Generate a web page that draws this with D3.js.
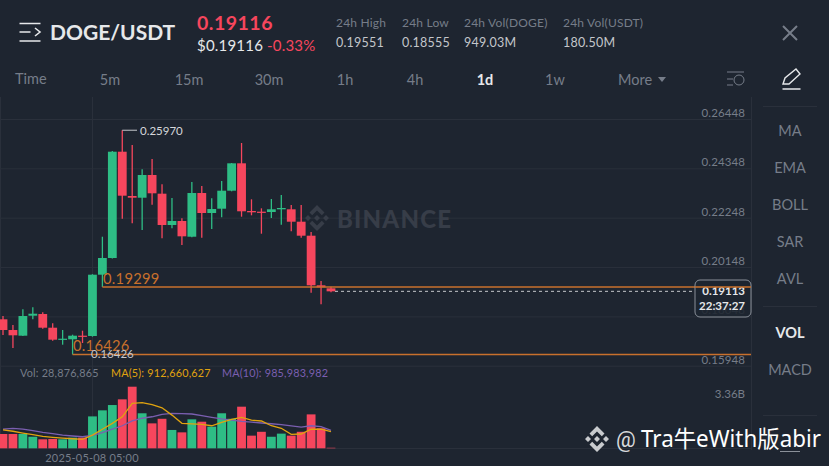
<!DOCTYPE html>
<html lang="en">
<head>
<meta charset="utf-8">
<title>DOGE/USDT</title>
<script src="https://d3js.org/d3.v7.min.js"></script>
<style>
  html, body { margin: 0; padding: 0; background: #1e2530; overflow: hidden; }
  svg { display: block; }
  text { font-family: Lato, "Open Sans", sans-serif; }
</style>
</head>
<body>
<div id="chart"></div>
<script>
// daily candles
var opens  = [0.17923,0.17467,0.17225,0.18076,0.18148,0.17565,0.17055,0.17072,0.17225,0.17212,0.19821,0.20532,0.25056,0.23171,0.23098,0.24065,0.23269,0.21936,0.22107,0.21438,0.23298,0.22447,0.22630,0.23396,0.24562,0.22532,0.22503,0.22490,0.22605,0.22605,0.22077,0.21481,0.19370,0.19242];
var highs  = [0.18063,0.17680,0.18348,0.18434,0.18221,0.17753,0.17467,0.17268,0.17438,0.19842,0.21438,0.25086,0.25970,0.25341,0.24307,0.24746,0.23669,0.23086,0.22222,0.23767,0.23596,0.23073,0.23809,0.24575,0.25427,0.23030,0.22647,0.23043,0.23213,0.22788,0.22788,0.21639,0.19553,0.19310];
var lows   = [0.17255,0.16701,0.17215,0.17923,0.17523,0.17012,0.16842,0.16426,0.16914,0.17183,0.19299,0.20511,0.22205,0.22009,0.21724,0.22800,0.21370,0.21796,0.21085,0.21413,0.21396,0.21766,0.22264,0.23370,0.22290,0.22349,0.21566,0.22234,0.21949,0.21668,0.21396,0.19055,0.18561,0.19072];
var closes = [0.17467,0.17242,0.18063,0.18161,0.17565,0.17055,0.17097,0.17225,0.17183,0.19821,0.20532,0.25056,0.23184,0.23098,0.24065,0.23286,0.21936,0.22107,0.21455,0.23298,0.22447,0.22617,0.23396,0.24562,0.22520,0.22477,0.22464,0.22605,0.22660,0.22077,0.21481,0.19370,0.19285,0.19113];

// volume pane, in billions
var volumes = [0.78,0.78,0.78,0.63,0.49,0.51,0.49,0.58,0.58,1.74,2.07,2.36,2.67,3.36,1.91,1.36,1.61,1.00,0.87,1.58,1.45,1.18,1.91,1.61,2.27,0.69,0.90,0.63,0.80,0.69,0.90,1.85,1.09,0.029];
var volumeUp = [0,0,1,1,0,0,1,1,0,1,1,1,0,0,1,0,0,1,0,1,0,1,1,1,0,0,0,1,1,0,0,0,0,0];
var ma5  = [1.00,0.93,0.83,0.74,0.65,0.60,0.56,0.52,0.49,0.72,1.04,1.36,1.72,2.45,2.49,2.38,2.21,1.81,1.36,1.33,1.31,1.23,1.42,1.58,1.69,1.54,1.49,1.23,1.09,0.76,0.78,1.04,1.04,0.91];
var ma10 = [1.05,1.09,1.05,0.96,0.87,0.80,0.72,0.67,0.63,0.71,0.85,1.04,1.23,1.49,1.64,1.72,1.85,1.91,1.89,1.87,1.78,1.69,1.60,1.54,1.47,1.43,1.38,1.34,1.29,1.22,1.16,1.23,1.18,0.98];

var priceTicks = [0.26448,0.24348,0.22248,0.20148,0.18048,0.15948];
var volumeTicks = [3.36];
var intervals = ["5m","15m","30m","1h","4h","1d","1w"];
var intervalX = [110,189,269,345,415,485,555];
var indicators = ["MA","EMA","BOLL","SAR","AVL","VOL","MACD"];
var indicatorY = [131,168,205,242,279,333,370];
var stats = [
  {label:"24h High", value:"0.19551", x:336},
  {label:"24h Low", value:"0.18555", x:402},
  {label:"24h Vol(DOGE)", value:"949.03M", x:464},
  {label:"24h Vol(USDT)", value:"180.50M", x:563}
];

var w = 829, h = 466;
var up = "#2ebd85", down = "#f6465d", grey = "#767d89", white = "#e6e8ea", gridColor = "#2a303b", orange = "#c8702c";

var svg = d3.select("#chart").append("svg").attr("width", w).attr("height", h);

// scales
var x = d3.scaleLinear().domain([0, 33]).range([3, 331]);
var y = d3.scaleLinear().domain([0.15948, 0.26448]).range([365.7, 119]);
var yVol = d3.scaleLinear().domain([0, 3.36]).range([448.3, 386.7]);

// header
svg.append("path")
  .attr("d", "M19.500 23.500h21M19.500 32h11M35 28l5 4-5 4M19.500 41h21")
  .attr("fill", "none").attr("stroke", white).attr("stroke-width", 1.6);
svg.append("text").attr("x", 50).attr("y", 40).attr("fill", white)
  .attr("font-size", 21).attr("font-weight", 700).text("DOGE/USDT");
svg.append("text").attr("x", 197).attr("y", 30).attr("fill", down)
  .attr("font-size", 19.5).attr("font-weight", 700).attr("letter-spacing", 0.5).text("0.19116");
svg.append("text").attr("x", 197).attr("y", 51).attr("fill", white)
  .attr("font-size", 15).attr("letter-spacing", 0.2).text("$0.19116");
svg.append("text").attr("x", 267).attr("y", 51).attr("fill", down)
  .attr("font-size", 15).attr("letter-spacing", 0.2).text("-0.33%");

stats.forEach(function(d) {
  svg.append("text").attr("x", d.x).attr("y", 27).attr("fill", grey)
    .attr("font-size", 12).attr("letter-spacing", 0.2).text(d.label);
  svg.append("text").attr("x", d.x).attr("y", 47).attr("fill", "#c4c7cb")
    .attr("font-size", 12.5).attr("letter-spacing", 0.2).text(d.value);
});

// close button and pencil
svg.append("path").attr("d", "M783 26l14 14M797 26l-14 14")
  .attr("stroke", grey).attr("stroke-width", 2).attr("fill", "none");
svg.append("path").attr("d", "M783 84l2-6 11-9 4 5-11 10zM782.500 89h18")
  .attr("stroke", white).attr("stroke-width", 1.4).attr("fill", "none");

// interval row
svg.append("text").attr("x", 15).attr("y", 84).attr("fill", grey).attr("font-size", 14.5).text("Time");
svg.selectAll("text.interval").data(intervals).enter().append("text")
  .attr("class", "interval")
  .attr("x", function(d, i) { return intervalX[i]; })
  .attr("y", 85)
  .attr("text-anchor", "middle")
  .attr("font-size", 14.5)
  .attr("font-weight", function(d) { return d == "1d" ? 700 : 400; })
  .attr("fill", function(d) { return d == "1d" ? white : grey; })
  .text(function(d) { return d; });
svg.append("text").attr("x", 618).attr("y", 85).attr("fill", grey).attr("font-size", 14.5).text("More");
svg.append("path").attr("d", "M658 77h8l-4 5z").attr("fill", grey);
svg.append("path").attr("d", "M727 72h17M727 79h6M727 85h6")
  .attr("stroke", grey).attr("fill", "none");
svg.append("circle").attr("cx", 739).attr("cy", 80).attr("r", 5)
  .attr("stroke", grey).attr("fill", "none");

// panel frame
svg.append("path").attr("d", "M751.500 97V450M92.500 97V448M0.500 97V448M0 448.500H751")
  .attr("stroke", gridColor).attr("fill", "none");

// price axis, its lines run across the chart
var yAxis = d3.axisLeft(y).tickValues(priceTicks).tickSize(751)
  .tickFormat(d3.format(".5f"));
var gy = svg.append("g").attr("transform", "translate(751,0)").call(yAxis);
gy.select(".domain").remove();
gy.selectAll("line").attr("stroke", gridColor);
gy.selectAll("text").attr("x", -6).attr("dy", -2.5).attr("fill", grey)
  .attr("font-size", 11.5).attr("letter-spacing", 0.1)
  .style("font-family", "Lato");

// volume axis, label sits just under the top of the pane
var gv = svg.append("g").attr("transform", "translate(751,0)")
  .call(d3.axisLeft(yVol).tickValues(volumeTicks).tickSize(0).tickFormat(function(d) { return d + "B"; }));
gv.select(".domain").remove();
gv.selectAll("text").attr("x", -6).attr("dy", 11).attr("fill", grey)
  .attr("font-size", 11.5).style("font-family", "Lato");

// watermark behind the candles
var logo = svg.append("g").attr("transform", "translate(317,218)").attr("fill", "#373d48");
logo.append("path").attr("d", "M0 -13L7.500 -5.500 4.800 -2.800 0 -7.600 -4.800 -2.800 -7.500 -5.500zM0 13L7.500 5.500 4.800 2.800 0 7.600 -4.800 2.800 -7.500 5.500zM-9 -3L-6 0 -9 3 -12 0zM9 -3L12 0 9 3 6 0zM0 -3L3 0 0 3 -3 0z");
svg.append("text").attr("x", 337).attr("y", 228).attr("fill", "#373d48")
  .attr("font-size", 24).attr("font-weight", 900).attr("letter-spacing", 1.2).text("BINANCE");

// candles
var idx = d3.range(closes.length);
var colour = function(i) { return closes[i] >= opens[i] ? up : down; };
svg.selectAll("line.wick").data(idx).enter().append("line")
  .attr("class", "wick")
  .attr("x1", function(i) { return x(i); })
  .attr("x2", function(i) { return x(i); })
  .attr("y1", function(i) { return y(highs[i]); })
  .attr("y2", function(i) { return y(lows[i]); })
  .attr("stroke", colour)
  .attr("stroke-width", 1.3);
svg.selectAll("rect.body").data(idx).enter().append("rect")
  .attr("class", "body")
  .attr("x", function(i) { return x(i) - 4.4; })
  .attr("width", 8.8)
  .attr("y", function(i) { return Math.min(y(opens[i]), y(closes[i])); })
  .attr("height", function(i) { return Math.max(1.2, Math.abs(y(opens[i]) - y(closes[i]))); })
  .attr("fill", colour);

// high / low markers
svg.append("path")
  .attr("d", "M" + x(12) + " " + y(0.25970) + "H137")
  .attr("stroke", "#c4c7cb").attr("fill", "none");
svg.append("text").attr("x", 140).attr("y", y(0.25970) + 4.500).attr("fill", "#d5d7da")
  .attr("font-size", 11.5).text("0.25970");

svg.append("line").attr("x1", x(10)).attr("x2", 751)
  .attr("y1", y(0.19299)).attr("y2", y(0.19299))
  .attr("stroke", orange).attr("stroke-width", 1.5);
svg.append("line").attr("x1", x(7)).attr("x2", 751)
  .attr("y1", y(0.16426)).attr("y2", y(0.16426))
  .attr("stroke", orange).attr("stroke-width", 1.5);
svg.append("text").attr("x", 103).attr("y", y(0.19299) - 3).attr("fill", orange)
  .attr("font-size", 14.7).attr("letter-spacing", 0.3).text("0.19299");
svg.append("text").attr("x", 73).attr("y", y(0.16426) - 3).attr("fill", orange)
  .attr("font-size", 14.7).attr("letter-spacing", 0.3).text("0.16426");
svg.append("text").attr("x", 91).attr("y", y(0.16426) + 4).attr("fill", "#c4c7cb")
  .attr("font-size", 11.5).text("0.16426");

// last price line and box
svg.append("line").attr("x1", x(33) + 4).attr("x2", 695)
  .attr("y1", y(0.19113)).attr("y2", y(0.19113))
  .attr("stroke", "#c4c7cb").attr("stroke-dasharray", "3 3");
svg.append("rect").attr("x", 695).attr("y", 280).attr("width", 56).attr("height", 37).attr("rx", 5)
  .attr("fill", "#1e2530").attr("fill-opacity", 0.88).attr("stroke", "#8a9099");
svg.append("text").attr("x", 745).attr("y", 295).attr("text-anchor", "end").attr("fill", white)
  .attr("font-size", 11.5).attr("font-weight", 700).text("0.19113");
svg.append("text").attr("x", 745).attr("y", 310).attr("text-anchor", "end").attr("fill", white)
  .attr("font-size", 11.5).attr("font-weight", 700).text("22:37:27");
svg.append("line").attr("x1", 695).attr("x2", 751)
  .attr("y1", y(0.19299)).attr("y2", y(0.19299))
  .attr("stroke", orange).attr("stroke-width", 1.5);

// volume legend
svg.append("text").attr("x", 20).attr("y", 377).attr("fill", grey).attr("font-size", 10.8).attr("letter-spacing", 0.2).text("Vol: 28,876,865");
svg.append("text").attr("x", 111).attr("y", 377).attr("fill", "#e0a30f").attr("font-size", 10.8).attr("letter-spacing", 0.2).text("MA(5): 912,660,627");
svg.append("text").attr("x", 222).attr("y", 377).attr("fill", "#7b5fb0").attr("font-size", 10.8).attr("letter-spacing", 0.2).text("MA(10): 985,983,982");

// volume bars
svg.selectAll("rect.vol").data(volumes).enter().append("rect")
  .attr("class", "vol")
  .attr("x", function(d, i) { return x(i) - 4.4; })
  .attr("width", 8.8)
  .attr("y", function(d) { return yVol(d); })
  .attr("height", function(d) { return yVol(0) - yVol(d); })
  .attr("fill", function(d, i) { return volumeUp[i] ? up : down; });

// moving averages
var volLine = d3.line().x(function(d, i) { return x(i); }).y(function(d) { return yVol(d); });
svg.append("path").attr("d", volLine(ma10)).attr("fill", "none").attr("stroke", "#7b5fb0").attr("stroke-width", 1.3);
svg.append("path").attr("d", volLine(ma5)).attr("fill", "none").attr("stroke", "#e0a30f").attr("stroke-width", 1.3);

svg.append("text").attr("x", 92).attr("y", 462).attr("text-anchor", "middle").attr("fill", grey)
  .attr("font-size", 11).attr("letter-spacing", 0.2).text("2025-05-08 05:00");

// indicator column
svg.selectAll("text.ind").data(indicators).enter().append("text")
  .attr("class", "ind")
  .attr("x", 790)
  .attr("y", function(d, i) { return indicatorY[i] + 5; })
  .attr("text-anchor", "middle")
  .attr("font-size", 14.5)
  .attr("font-weight", function(d) { return d == "VOL" ? 700 : 400; })
  .attr("fill", function(d) { return d == "VOL" ? white : grey; })
  .text(function(d) { return d; });
svg.append("path").attr("d", "M763 106.500H817M763 306.500H817M763 415.500H817")
  .attr("stroke", gridColor).attr("fill", "none");
svg.append("path").attr("d", "M780 451.500H800").attr("stroke", "#8a9099").attr("fill", "none");

// reposter watermark
var mark = svg.append("g").attr("transform", "translate(597,439)").attr("fill", "#c9cbce");
mark.append("path").attr("d", "M0 -13L7.500 -5.500 4.800 -2.800 0 -7.600 -4.800 -2.800 -7.500 -5.500zM0 13L7.500 5.500 4.800 2.800 0 7.600 -4.800 2.800 -7.500 5.500zM-9 -3L-6 0 -9 3 -12 0zM9 -3L12 0 9 3 6 0zM0 -3L3 0 0 3 -3 0z");
svg.append("text").attr("x", 616).attr("y", 447).attr("fill", "#d8d9db")
  .attr("font-size", 22).style("font-family", "Roboto").text("@");
svg.append("text").attr("x", 641).attr("y", 447).attr("fill", "#ffffff")
  .attr("font-size", 23)
  .attr("textLength", 180).attr("lengthAdjust", "spacingAndGlyphs")
  .style("font-family", "'Noto Sans', 'Noto Sans CJK SC'").text("Tra牛eWith版abir");
</script>
</body>
</html>
